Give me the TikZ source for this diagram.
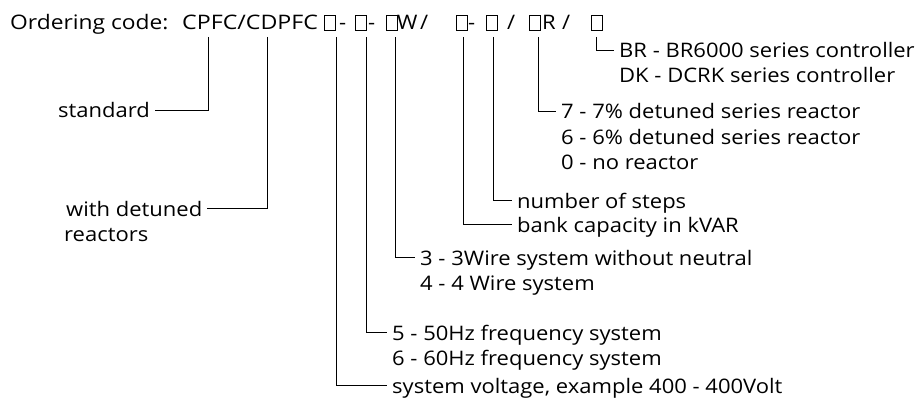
\documentclass[tikz,border=0pt]{standalone}
\usepackage{fontspec}
\setmainfont[FakeStretch=1.1]{Open Sans}
\begin{document}
\begin{tikzpicture}[x=1pt,y=-1pt,
  txt/.style={anchor=base west,inner xsep=0pt,inner ysep=0pt,font=\fontsize{20}{24}\selectfont},
  lbl/.style={anchor=base west,inner xsep=5pt,inner ysep=0pt,text height=16pt,text depth=0pt,font=\fontsize{20}{24}\selectfont},
  codebox/.style={draw,anchor=south,minimum width=11pt,minimum height=15pt,inner sep=0pt,line width=0.8pt},
  conn/.style={draw,line width=0.8pt}]
\fill[white] (0,0) rectangle (917,398);
\useasboundingbox (0,0) rectangle (917,398);
% code line
\node[txt] (title) at (10,30) {\addfontfeature{FakeStretch=1.14}Ordering code:};
\node[txt] (code) at (182,30) {\addfontfeature{FakeStretch=1.16}CPFC/CDPFC};
\node[codebox] (b1) at (330,31) {};
\node[txt] (s1) at (339,30) {-};
\node[codebox] (b2) at (361,31) {};
\node[txt] (s2) at (368,30) {-};
\node[codebox] (b3) at (392,31) {};
\node[txt] (s3) at (397,30) {W};
\node[txt] (s4) at (420,30) {/};
\node[codebox] (b4) at (462,31) {};
\node[txt] (s5) at (468,30) {-};
\node[codebox] (b5) at (492,31) {};
\node[txt] (s6) at (507,30) {/};
\node[codebox] (b6) at (534.5,31) {};
\node[txt] (s7) at (542,30) {R};
\node[txt] (s8) at (562,30) {/};
\node[codebox] (b7) at (596.5,31) {};
% line tops
\coordinate (t1) at (208,37);
\coordinate (t2) at (267,37);
\coordinate (t3) at (336,37);
\coordinate (t4) at (366,37);
\coordinate (t5) at (395,37);
\coordinate (t6) at (463,37);
\coordinate (t7) at (493,37);
\coordinate (t8) at (538,37);
\coordinate (t9) at (596,37);
% labels
\node[lbl] (std) at (53,118) {standard};
\node[lbl] (wd) at (61,216) {with detuned};
\node[lbl] (wd2) at (59,241) {reactors};
\node[lbl] (br) at (614,58) {BR - BR6000 series controller};
\node[lbl] (dk) at (614,83) {DK - DCRK series controller};
\node[lbl] (r7) at (556,119) {7 - 7\% detuned series reactor};
\node[lbl] (r6) at (556,145) {6 - 6\% detuned series reactor};
\node[lbl] (r0) at (556,170) {0 - no reactor};
\node[lbl] (nos) at (512,208) {number of steps};
\node[lbl] (bank) at (512,232) {bank capacity in kVAR};
\node[lbl] (w3) at (415,265) {3 - 3Wire system without neutral};
\node[lbl] (w4) at (415,290) {4 - 4 Wire system};
\node[lbl] (f5) at (387,340) {5 - 50Hz frequency system};
\node[lbl] (f6) at (387,365) {6 - 60Hz frequency system};
\node[lbl] (sv) at (387,393) {system voltage, example 400 - 400Volt};
% connectors
\draw[conn] (t1) |- (std.east);
\draw[conn] (t2) |- (wd.east);
\draw[conn] (t3) |- (sv.west);
\draw[conn] (t4) |- (f5.west);
\draw[conn] (t5) |- (w3.west);
\draw[conn] (t6) |- (bank.west);
\draw[conn] (t7) |- (nos.west);
\draw[conn] (t8) |- (r7.west);
\draw[conn] (t9) |- (br.west);
\end{tikzpicture}
\end{document}
